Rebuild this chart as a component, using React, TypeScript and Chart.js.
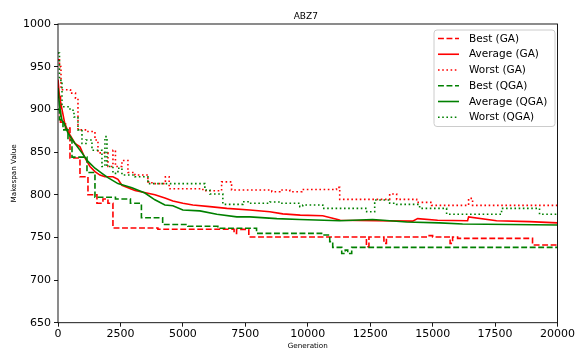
import { useEffect, useRef } from 'react';
import { Chart, registerables } from 'chart.js';

Chart.register(...registerables);

const FONT = '"DejaVu Sans", "Liberation Sans", sans-serif';

const chartTitle = 'ABZ7';
const xAxisTitle = 'Generation';
const yAxisTitle = 'Makespan Value';

const generationTicks = [0, 2500, 5000, 7500, 10000, 12500, 15000, 17500, 20000];
const makespanTicks = [650, 700, 750, 800, 850, 900, 950, 1000];

const seriesLabels = ['Best (GA)', 'Average (GA)', 'Worst (GA)', 'Best (QGA)', 'Average (QGA)', 'Worst (QGA)'];

const bestGAGen = [0, 100, 300, 480, 880, 1200, 1560, 1800, 2000, 2200, 4000, 7050, 7150, 7640, 12350, 12450, 13050, 13150, 14800, 15000, 15700, 15800, 16000, 19000, 20000];
const bestGAVal = [915, 885, 878, 843, 821, 800, 790, 795, 790, 761, 759.5, 754.7, 759.4, 750.5, 739, 750.5, 743, 750.5, 752, 750.5, 743, 750.5, 748.8, 741, 741];

const avgGAGen = [0, 60, 160, 280, 480, 680, 880, 1080, 1280, 1480, 1680, 1880, 2200, 2400, 2560, 3080, 3880, 4280, 4600, 5000, 5400, 6080, 6760, 7680, 8480, 9000, 9700, 10600, 11200, 11300, 14200, 14400, 15200, 16400, 16440, 17560, 18880, 20000];
const avgGAVal = [935, 915, 900, 882, 870, 860, 856, 843, 833, 827, 823, 821, 821, 818, 811, 805, 800, 796, 792.6, 790, 788, 786, 784, 782, 780, 777.5, 776, 775.4, 771, 770, 769, 772, 770, 769.5, 774, 769.5, 768.4, 767];

const worstGAGen = [0, 60, 120, 500, 700, 800, 1200, 1480, 1600, 2000, 2200, 2300, 2560, 2800, 3080, 3600, 3760, 4300, 4450, 5800, 6550, 6950, 8560, 8880, 9280, 9760, 11150, 11280, 13280, 13560, 14360, 14960, 16440, 16600, 20000];
const worstGAVal = [958, 950, 923, 919, 913, 876, 874, 864, 849, 833, 852, 833, 840, 826, 823, 815, 813, 821, 807, 804.6, 815, 805.5, 803.5, 805.5, 803.5, 806, 808.6, 794.5, 800.8, 794.5, 791, 787.5, 795.7, 787.5, 787.5];

const bestQGAGen = [0, 60, 200, 400, 560, 1160, 1480, 2300, 2900, 3340, 4190, 5200, 6400, 7950, 10600, 10880, 11000, 11360, 11500, 11600, 11760, 20000];
const bestQGAVal = [900, 888, 876, 864, 844, 826, 797, 795, 790, 773, 765, 763, 760.6, 754.7, 752.7, 745, 738.3, 731, 735, 731, 738.3, 738.3];

const avgQGAGen = [0, 60, 120, 160, 240, 400, 680, 960, 1200, 1480, 1760, 2000, 2400, 2960, 3480, 3880, 4280, 4600, 5000, 5680, 6360, 7160, 7680, 8760, 9680, 11280, 12600, 13960, 15280, 16200, 20000];
const avgQGAVal = [925, 905, 893, 887, 884, 872, 860, 849, 839, 831, 825, 820, 813, 808, 802, 794, 788, 787, 782, 781, 777, 774, 774, 772, 771, 769.5, 771, 768, 767, 765.6, 764.5];

const worstQGAGen = [0, 60, 160, 480, 640, 800, 960, 1120, 1360, 1760, 1880, 1960, 2200, 2400, 2560, 3080, 3600, 5880, 6080, 6600, 7400, 7680, 8480, 8880, 9680, 9800, 10600, 12360, 12680, 13280, 13560, 14480, 15560, 17760, 19280, 20000];
const worstQGAVal = [966, 934, 903, 899, 891, 876, 860, 864, 852, 833, 868, 833, 825, 831, 823, 821, 813, 805.5, 800.8, 788.7, 791.8, 790, 791.4, 790, 786, 788, 784, 780, 793.7, 790, 788.7, 784, 777, 784, 777, 777];

const RED = '#ff0000';
const GREEN = '#008000';
const DASHED = [5.9, 2.6];
const DOTTED = [1.6, 2.6];
const SOLID: number[] = [];

export default function App() {
  const ref = useRef<HTMLCanvasElement>(null);

  useEffect(() => {
    document.body.style.margin = '0';
    const canvas = ref.current;
    if (!canvas) return;

    const styles = [
      { color: RED, dash: DASHED, stepped: 'before' as const },
      { color: RED, dash: SOLID, stepped: false as const },
      { color: RED, dash: DOTTED, stepped: 'before' as const },
      { color: GREEN, dash: DASHED, stepped: 'before' as const },
      { color: GREEN, dash: SOLID, stepped: false as const },
      { color: GREEN, dash: DOTTED, stepped: 'before' as const },
    ];
    const series = [
      [bestGAGen, bestGAVal],
      [avgGAGen, avgGAVal],
      [worstGAGen, worstGAVal],
      [bestQGAGen, bestQGAVal],
      [avgQGAGen, avgQGAVal],
      [worstQGAGen, worstQGAVal],
    ];

    const datasets = series.map(([g, v], i) => ({
      label: seriesLabels[i],
      data: g.map((x, k) => ({ x, y: v[k] })),
      borderColor: styles[i].color,
      backgroundColor: styles[i].color,
      borderWidth: 1.6,
      borderDash: styles[i].dash,
      pointRadius: 0,
      stepped: styles[i].stepped,
      tension: 0,
      fill: false,
      order: 6 - i,
    }));

    const framePlugin = {
      id: 'frame',
      afterDatasetsDraw(chart: any) {
        const { ctx, chartArea: a } = chart;
        ctx.save();
        ctx.strokeStyle = '#000';
        ctx.lineWidth = 0.9;
        ctx.strokeRect(a.left, a.top, a.right - a.left, a.bottom - a.top);
        ctx.fillStyle = '#000';
        ctx.font = `9px ${FONT}`;
        ctx.textAlign = 'center';
        ctx.textBaseline = 'alphabetic';
        ctx.fillText(chartTitle, (a.left + a.right) / 2 - 2, 18.7);
        ctx.restore();
      },
    };

    const legendPlugin = {
      id: 'customLegend',
      afterDraw(chart: any) {
        const { ctx } = chart;
        const bx = 434, by = 30, bw = 121, bh = 96.5, r = 3;
        ctx.save();
        ctx.beginPath();
        ctx.moveTo(bx + r, by);
        ctx.lineTo(bx + bw - r, by);
        ctx.quadraticCurveTo(bx + bw, by, bx + bw, by + r);
        ctx.lineTo(bx + bw, by + bh - r);
        ctx.quadraticCurveTo(bx + bw, by + bh, bx + bw - r, by + bh);
        ctx.lineTo(bx + r, by + bh);
        ctx.quadraticCurveTo(bx, by + bh, bx, by + bh - r);
        ctx.lineTo(bx, by + r);
        ctx.quadraticCurveTo(bx, by, bx + r, by);
        ctx.closePath();
        ctx.fillStyle = 'rgba(255,255,255,0.8)';
        ctx.fill();
        ctx.strokeStyle = '#cccccc';
        ctx.lineWidth = 1;
        ctx.stroke();
        ctx.font = `10.5px ${FONT}`;
        ctx.textAlign = 'left';
        ctx.textBaseline = 'middle';
        seriesLabels.forEach((label, i) => {
          const y = 38.5 + i * 15.75;
          ctx.beginPath();
          ctx.setLineDash(styles[i].dash);
          ctx.strokeStyle = styles[i].color;
          ctx.lineWidth = 1.6;
          ctx.moveTo(438, y);
          ctx.lineTo(459, y);
          ctx.stroke();
          ctx.setLineDash([]);
          ctx.fillStyle = '#000';
          ctx.fillText(label, 469, y + 0.5);
        });
        ctx.restore();
      },
    };

    const tickGrid = {
      display: true,
      drawOnChartArea: false,
      drawTicks: true,
      tickLength: 4,
      color: '#000',
      lineWidth: 0.9,
    };

    const chart = new Chart(canvas, {
      type: 'line',
      data: { datasets: datasets as any },
      options: {
        animation: false,
        responsive: false,
        maintainAspectRatio: false,
        layout: { padding: { left: 0, right: 18, top: 24, bottom: 0 } },
        plugins: {
          legend: { display: false },
          tooltip: { enabled: false },
          title: { display: false },
        },
        scales: {
          x: {
            type: 'linear',
            min: 0,
            max: 20000,
            afterBuildTicks: (s: any) => {
              s.ticks = generationTicks.map((value) => ({ value }));
            },
            afterFit: (s: any) => {
              s.height = 31.3;
            },
            ticks: {
              callback: (v: any) => String(v),
              font: { family: FONT, size: 11 },
              color: '#000',
              padding: 1,
              maxRotation: 0,
              autoSkip: false,
            },
            grid: tickGrid,
            border: { display: false },
            title: {
              display: true,
              text: xAxisTitle,
              font: { family: FONT, size: 7.2 },
              color: '#000',
              padding: { top: 0, bottom: 3.6 },
            },
          },
          y: {
            type: 'linear',
            min: 650,
            max: 1000,
            afterBuildTicks: (s: any) => {
              s.ticks = makespanTicks.map((value) => ({ value }));
            },
            afterFit: (s: any) => {
              s.width = 58;
            },
            ticks: {
              callback: (v: any) => String(v),
              font: { family: FONT, size: 11 },
              color: '#000',
              padding: 3,
              autoSkip: false,
            },
            grid: tickGrid,
            border: { display: false },
            title: {
              display: true,
              text: yAxisTitle,
              font: { family: FONT, size: 7.2 },
              color: '#000',
              padding: { top: 9.7, bottom: 0 },
            },
          },
        },
      },
      plugins: [framePlugin, legendPlugin],
    });

    return () => chart.destroy();
  }, []);

  return (
    <div style={{ width: 576, height: 354 }}>
      <canvas ref={ref} width={576} height={354} style={{ display: 'block', width: 576, height: 354 }} />
    </div>
  );
}
